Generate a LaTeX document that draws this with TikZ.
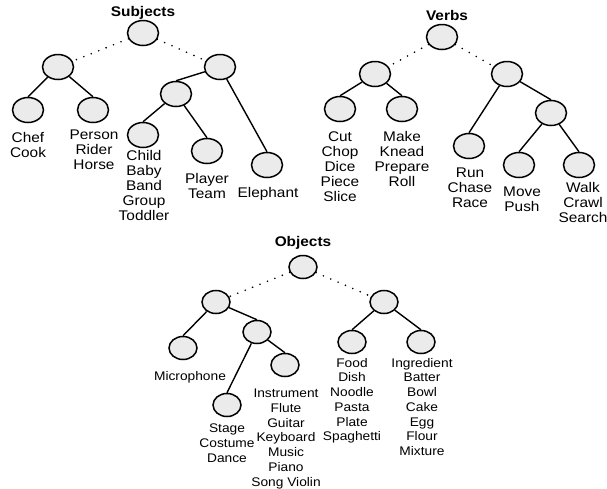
\documentclass[tikz,border=0pt]{standalone}
\usepackage{fontspec}
\setmainfont{Liberation Sans}[FakeStretch=1.1]
\usetikzlibrary{shapes.geometric}
\definecolor{nodefill}{HTML}{EBEBEB}
\tikzset{
  tnode/.style={ellipse, draw=black, fill=nodefill, line width=1.5pt, inner sep=0pt, minimum width=31pt, minimum height=25pt},
  onode/.style={tnode, minimum width=28pt, minimum height=23pt},
  edge/.style={draw=black, line width=1.4pt},
  dotedge/.style={draw=black, line width=1.8pt, line cap=round, dash pattern=on 0pt off 8pt},
  lbl/.style={anchor=north, inner sep=0pt, align=center, font=\fontsize{14}{15}\selectfont},
  olbl/.style={anchor=north, inner sep=0pt, align=center, font=\fontsize{12.5}{14.7}\selectfont},
  ttl/.style={anchor=north, inner sep=0pt, font=\fontsize{14}{15}\selectfont\bfseries}
}
\begin{document}
\begin{tikzpicture}[x=1pt,y=-1pt]
\useasboundingbox (0,0) rectangle (607,488);
% ---------- Subjects ----------
\node[ttl] (sT) at (143,6) {Subjects};
\node[tnode] (sR) at (143,33) {};
\node[tnode] (sL) at (58,67) {};
\node[tnode] (sRR) at (220,67) {};
\node[tnode] (sChef) at (28,110) {};
\node[tnode] (sPerson) at (93,110) {};
\node[tnode] (sMid) at (176,94) {};
\node[tnode] (sChild) at (143,135) {};
\node[tnode] (sPlayer) at (207,151) {};
\node[tnode] (sEleph) at (267,165) {};
\draw[dotedge] (sR) -- (sL);
\draw[dotedge] (sR) -- (sRR);
\draw[edge] (sL) -- (sChef.north);
\draw[edge] (sL) -- (sPerson.north);
\draw[edge] (sRR) -- (sMid.north);
\draw[edge] (sRR) -- (sEleph.north);
\draw[edge] (sMid) -- (sChild.north);
\draw[edge] (sMid) -- (sPlayer.north);
\node[lbl] (tChef) at (28,132) {Chef\\Cook};
\node[lbl] (tPerson) at (94,130) {Person\\Rider\\Horse};
\node[lbl] (tChild) at (144,150) {Child\\Baby\\Band\\Group\\Toddler};
\node[lbl] (tPlayer) at (207,173) {Player\\Team};
\node[lbl] (tEleph) at (268,187) {Elephant};
% ---------- Verbs ----------
\node[ttl] (vT) at (447,10) {Verbs};
\node[tnode] (vR) at (442,37) {};
\node[tnode] (vL) at (375,74) {};
\node[tnode] (vRR) at (507,74) {};
\node[tnode] (vCut) at (340,109) {};
\node[tnode] (vMake) at (402,109) {};
\node[tnode] (vRun) at (469,146) {};
\node[tnode] (vMid) at (551,113) {};
\node[tnode] (vMove) at (519,165) {};
\node[tnode] (vWalk) at (579,165) {};
\draw[dotedge] (vR) -- (vL);
\draw[dotedge] (vR) -- (vRR);
\draw[edge] (vL) -- (vCut.north);
\draw[edge] (vL) -- (vMake.north);
\draw[edge] (vRR) -- (vRun.north);
\draw[edge] (vRR) -- (vMid.north);
\draw[edge] (vMid) -- (vMove.north);
\draw[edge] (vMid) -- (vWalk.north);
\node[lbl] (tCut) at (340,132) {Cut\\Chop\\Dice\\Piece\\Slice};
\node[lbl] (tMake) at (402,131) {Make\\Knead\\Prepare\\Roll};
\node[lbl] (tRun) at (470,168) {Run\\Chase\\Race};
\node[lbl] (tMove) at (522,187) {Move\\Push};
\node[lbl] (tWalk) at (583,182) {Walk\\Crawl\\Search};
% ---------- Objects ----------
\node[ttl] (oT) at (303,236) {Objects};
\node[onode] (oR) at (303,267) {};
\node[onode] (oL) at (216,302) {};
\node[onode] (oRR) at (384,302) {};
\node[onode] (oMic) at (183,348) {};
\node[onode] (oMid) at (257,332) {};
\node[onode] (oStage) at (227,405) {};
\node[onode] (oInst) at (285,365) {};
\node[onode] (oFood) at (352,342) {};
\node[onode] (oIngr) at (421,342) {};
\draw[dotedge] (oR) -- (oL);
\draw[dotedge] (oR) -- (oRR);
\draw[edge] (oL) -- (oMic.north);
\draw[edge] (oL) -- (oMid.north);
\draw[edge] (oMid) -- (oStage.north);
\draw[edge] (oMid) -- (oInst.north);
\draw[edge] (oRR) -- (oFood.north);
\draw[edge] (oRR) -- (oIngr.north);
\node[olbl] (tMic) at (190,371) {Microphone};
\node[olbl] (tStage) at (227,424) {Stage\\Costume\\Dance};
\node[olbl] (tInst) at (286,389) {Instrument\\Flute\\Guitar\\Keyboard\\Music\\Piano\\Song Violin};
\node[olbl] (tFood) at (352,358) {Food\\Dish\\Noodle\\Pasta\\Plate\\Spaghetti};
\node[olbl] (tIngr) at (422,358) {Ingredient\\Batter\\Bowl\\Cake\\Egg\\Flour\\Mixture};
\end{tikzpicture}
\end{document}
